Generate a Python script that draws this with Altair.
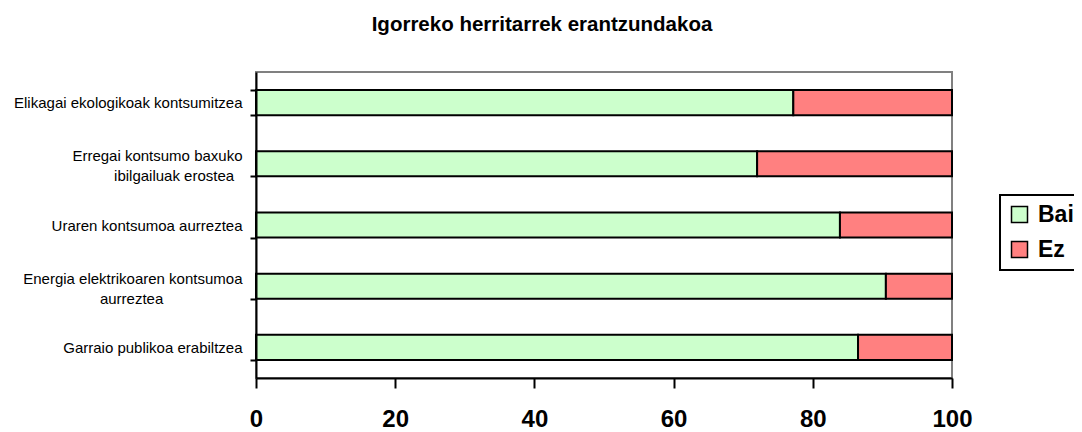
import altair as alt
import pandas as pd

categories = [
    "Elikagai ekologikoak kontsumitzea",
    "Erregai kontsumo baxuko\nibilgailuak erostea",
    "Uraren kontsumoa aurreztea",
    "Energia elektrikoaren kontsumoa\naurreztea",
    "Garraio publikoa erabiltzea",
]
bai = [77.2, 72.0, 83.9, 90.5, 86.5]
ez = [22.8, 28.0, 16.1, 9.5, 13.5]
series = ["Bai", "Ez"]
colors = ["#CCFFCC", "#FF8080"]
title_text = "Igorreko herritarrek erantzundakoa"
x_ticks = [0, 20, 40, 60, 80, 100]

# no-break spaces appended to a second label line so that it appears
# centred under the first line while the label block stays right-aligned
second_line_pad = [0, 2, 0, 19, 0]

display = []
for c, n in zip(categories, second_line_pad):
    parts = c.split("\n")
    if len(parts) > 1:
        parts[-1] = parts[-1] + "\u00a0" * n + "\u2060"
    display.append("\n".join(parts))

rows = []
for c, b, e in zip(display, bai, ez):
    rows.append({"cat": c, "serie": series[0], "val": b, "ord": 0})
    rows.append({"cat": c, "serie": series[1], "val": e, "ord": 1})
df = pd.DataFrame(rows)

FONT = "Liberation Sans"

multi_line_baseline = {
    "condition": {
        "test": "length(split(datum.value, '\\n')) > 1",
        "value": "bottom",
    },
    "value": "middle",
}

chart = (
    alt.Chart(df)
    .mark_bar(stroke="black", strokeWidth=2)
    .encode(
        x=alt.X(
            "val:Q",
            stack="zero",
            scale=alt.Scale(domain=[0, 100], nice=False),
            axis=alt.Axis(
                values=x_ticks,
                title=None,
                grid=False,
                tickSize=10,
                tickWidth=2,
                tickColor="black",
                domainColor="black",
                domainWidth=2,
                labelFont=FONT,
                labelFontSize=24,
                labelFontWeight="bold",
                labelColor="black",
                labelPadding=19,
                labelFlush=False,
                zindex=1,
            ),
        ),
        y=alt.Y(
            "cat:N",
            sort=display,
            scale=alt.Scale(paddingInner=0.59, paddingOuter=0.295),
            axis=alt.Axis(
                title=None,
                tickBand="extent",
                tickSize=6,
                tickWidth=2,
                tickColor="black",
                domainColor="black",
                domainWidth=2,
                labelFont=FONT,
                labelFontSize=15,
                labelColor="black",
                labelExpr="split(datum.label, '\\n')",
                labelLineHeight=20,
                labelLimit=0,
                labelAlign="right",
                labelBaseline=multi_line_baseline,
                labelPadding=8,
                zindex=1,
            ),
        ),
        color=alt.Color(
            "serie:N",
            scale=alt.Scale(domain=series, range=colors),
            legend=alt.Legend(
                title=None,
                orient="none",
                legendX=744,
                legendY=123,
                strokeColor="black",
                padding=8,
                symbolType="square",
                symbolSize=256,
                symbolStrokeColor="black",
                symbolStrokeWidth=1.5,
                labelFont=FONT,
                labelFontSize=23,
                labelFontWeight="bold",
                labelColor="black",
                labelOffset=7,
                rowPadding=11,
            ),
        ),
        order=alt.Order("ord:Q"),
    )
    .properties(
        width=696,
        height=306,
        autosize=alt.AutoSizeParams(type="none"),
        padding={"left": 248, "top": 64, "right": 122, "bottom": 56},
        title=alt.TitleParams(
            text=title_text,
            font=FONT,
            fontSize=20.5,
            fontWeight="bold",
            color="black",
            anchor="middle",
            dx=-62,
            offset=14,
            baseline="alphabetic",
        ),
    )
    .configure_view(stroke="#808080", strokeWidth=2)
    .configure_legend(strokeWidth=2)
)

chart.save("out.html", embed_options={"renderer": "svg", "actions": False})
